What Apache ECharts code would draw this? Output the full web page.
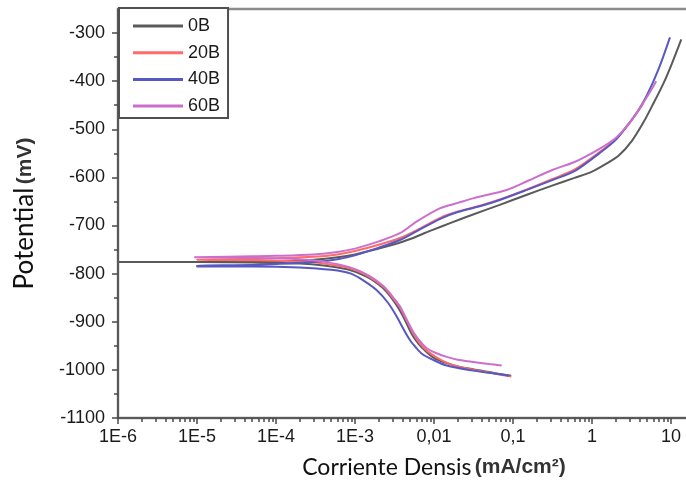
<!DOCTYPE html>
<html>
<head>
<meta charset="utf-8">
<script src="https://cdn.jsdelivr.net/npm/echarts@6/dist/echarts.min.js"></script>
<style>
  html, body { margin: 0; padding: 0; background: #ffffff; }
  #chart { width: 686px; height: 483px; }
</style>
</head>
<body>
<div id="chart"></div>
<script>
// Polarisation curves: [current density (mA/cm²), potential (mV)]
// Each curve runs along the cathodic branch towards Ecorr, then up the anodic branch.
const seriesNames = ['0B', '20B', '40B', '60B'];

const curve0B = [
  [0.095, -1012], [0.06, -1007], [0.032, -999], [0.02, -993], [0.014, -985], [0.01, -975],
  [0.0077, -960], [0.0063, -945], [0.0052, -925], [0.0043, -897], [0.0035, -870], [0.0028, -847],
  [0.0022, -828], [0.0014, -806], [0.0008, -791], [0.0004, -783], [0.0002, -779], [0.00005, -777],
  [0.00001, -776], [0.000001, -776],
  [0.000001, -776], [0.00001, -776], [0.0001, -775], [0.0003, -771], [0.0006, -766], [0.001, -760],
  [0.002, -748], [0.003, -740], [0.005, -728], [0.0075, -716], [0.01, -708], [0.016, -695],
  [0.03, -678], [0.068, -657], [0.15, -636], [0.3, -618], [0.6, -601], [1, -588], [1.5, -572],
  [2.2, -554], [3.2, -524], [4.5, -485], [6, -446], [8, -405], [10, -368], [13.5, -313]
];

const curve20B = [
  [0.095, -1014], [0.06, -1008], [0.032, -1000], [0.02, -993], [0.0145, -985], [0.011, -975],
  [0.0081, -960], [0.0066, -945], [0.0055, -925], [0.0045, -897], [0.0037, -870], [0.0029, -847],
  [0.0023, -828], [0.0015, -806], [0.00087, -789], [0.0004, -779], [0.0002, -775], [0.00005, -772],
  [0.00001, -771],
  [0.00001, -770], [0.00005, -769], [0.0001, -768], [0.0003, -765], [0.0006, -760], [0.001, -753],
  [0.002, -740], [0.0037, -726], [0.006, -710], [0.012, -684], [0.02, -671], [0.04, -658],
  [0.068, -646], [0.15, -625], [0.32, -603], [0.6, -584], [1.26, -547], [2, -520], [2.74, -495],
  [3.68, -466], [4.5, -445]
];

const curve40B = [
  [0.09, -1012], [0.06, -1008], [0.03, -1001], [0.0145, -991], [0.01, -980], [0.0071, -967],
  [0.0058, -952], [0.005, -939], [0.0041, -915], [0.0034, -890], [0.0026, -860], [0.0019, -835],
  [0.0013, -815], [0.00089, -800], [0.0005, -792], [0.0002, -787], [0.00005, -785], [0.00001, -785],
  [0.00001, -783], [0.00005, -782], [0.0001, -780], [0.0003, -776], [0.0006, -770], [0.001, -762],
  [0.002, -746], [0.0037, -730], [0.006, -712], [0.012, -686], [0.02, -672], [0.04, -659],
  [0.068, -647], [0.15, -626], [0.32, -605], [0.6, -587], [1.26, -549], [2, -522], [2.74, -494],
  [3.68, -466], [5, -428], [7, -374], [9.7, -309]
];

const curve60B = [
  [0.072, -991], [0.05, -988], [0.03, -983], [0.02, -979], [0.0145, -973], [0.011, -966],
  [0.0081, -955], [0.0066, -940], [0.0055, -922], [0.0045, -895], [0.0037, -868], [0.0029, -845],
  [0.0023, -826], [0.0015, -804], [0.00087, -787], [0.0004, -775], [0.0002, -770], [0.00005, -767],
  [0.0000093, -766],
  [0.0000093, -765], [0.00005, -764], [0.0001, -763], [0.0003, -760], [0.0006, -755], [0.001, -748],
  [0.002, -733], [0.0037, -716], [0.006, -692], [0.012, -664], [0.02, -653], [0.032, -643],
  [0.083, -626], [0.15, -608], [0.32, -584], [0.6, -568], [1.26, -540], [2, -518], [2.74, -494],
  [3.68, -466], [5, -432], [6.5, -400]
];

const curves = [curve0B, curve20B, curve40B, curve60B];
const lineColors = ['#5a5a5a', '#ff6a6a', '#5858c4', '#cc6fcc'];

// Axis ticks
const xMajorTicks = [1e-6, 1e-5, 1e-4, 1e-3, 1e-2, 1e-1, 1, 10, 100];
const xTickLabels = ['1E-6', '1E-5', '1E-4', '1E-3', '0,01', '0,1', '1', '10', '100'];
const yMajorTicks = [-1100, -1000, -900, -800, -700, -600, -500, -400, -300];
const yMinorTicks = [-1050, -950, -850, -750, -650, -550, -450, -350];

// minor log ticks at 2..9 × 10^n
const xMinorTicks = [];
for (let i = 0; i < xMajorTicks.length - 1; i++) {
  for (let m = 2; m <= 9; m++) xMinorTicks.push(+(m * xMajorTicks[i]).toPrecision(6));
}

const axisColor = '#4a4a4a';
const tickFont = { fontFamily: 'Liberation Sans', fontSize: 18, color: '#1a1a1a' };

const chart = echarts.init(document.getElementById('chart'), null, { renderer: 'canvas' });

chart.setOption({
  animation: false,
  backgroundColor: '#ffffff',
  grid: {
    left: 118, top: 9, width: 632, height: 409,
    containLabel: false,
    outerBoundsMode: 'none',
    show: true,
    borderColor: '#8c8c8c',
    borderWidth: 2.5,
    backgroundColor: 'transparent'
  },
  legend: {
    orient: 'vertical',
    left: 119,
    top: 8,
    padding: [9, 8, 3, 14],
    icon: 'rect',
    itemWidth: 50,
    itemHeight: 3,
    itemGap: 8.7,
    borderColor: '#505050',
    borderWidth: 2,
    backgroundColor: '#ffffff',
    textStyle: { fontFamily: 'Liberation Sans', fontSize: 18, lineHeight: 18, color: '#1a1a1a' },
    data: seriesNames
  },
  xAxis: [
    {
      type: 'log',
      logBase: 10,
      min: 1e-6,
      max: 100,
      position: 'bottom',
      splitLine: { show: false },
      axisLine: { show: true, lineStyle: { color: axisColor, width: 1.5 } },
      axisTick: { show: true, inside: false, length: 6, customValues: xMajorTicks,
                  lineStyle: { color: axisColor, width: 1.5 } },
      minorTick: { show: false },
      axisLabel: {
        show: true, margin: 10, customValues: xMajorTicks, ...tickFont,
        formatter: v => xTickLabels[Math.round(Math.log10(v)) + 6]
      },
      name: '{a|Corriente Densis} {b|(mA/cm²)}',
      nameLocation: 'middle',
      nameGap: 38,
      nameTextStyle: {
        rich: {
          a: { fontFamily: 'Lato', fontSize: 23, color: '#111111' },
          b: { fontFamily: 'Liberation Sans', fontSize: 21, fontWeight: 'bold', color: '#333333' }
        }
      }
    },
    {
      type: 'log',
      logBase: 10,
      min: 1e-6,
      max: 100,
      position: 'bottom',
      splitLine: { show: false },
      axisLine: { show: false },
      axisTick: { show: true, inside: false, length: 4, customValues: xMinorTicks,
                  lineStyle: { color: axisColor, width: 1.5 } },
      axisLabel: { show: false }
    }
  ],
  yAxis: [
    {
      type: 'value',
      min: -1100,
      max: -250,
      interval: 100,
      position: 'left',
      splitLine: { show: false },
      axisLine: { show: true, lineStyle: { color: axisColor, width: 1.5 } },
      axisTick: { show: true, inside: false, length: 6, customValues: yMajorTicks,
                  lineStyle: { color: axisColor, width: 1.5 } },
      axisLabel: {
        show: true, margin: 13, customValues: yMajorTicks, ...tickFont,
        formatter: v => String(v)
      },
      name: '{a|Potential} {b|(mV)}',
      nameLocation: 'middle',
      nameGap: 80,
      nameRotate: 90,
      nameTextStyle: {
        rich: {
          a: { fontFamily: 'Lato', fontSize: 26, color: '#111111' },
          b: { fontFamily: 'Liberation Sans', fontSize: 21, fontWeight: 'bold', color: '#333333' }
        }
      }
    },
    {
      type: 'value',
      min: -1100,
      max: -250,
      interval: 100,
      position: 'left',
      splitLine: { show: false },
      axisLine: { show: false },
      axisTick: { show: true, inside: false, length: 4, customValues: yMinorTicks,
                  lineStyle: { color: axisColor, width: 1.5 } },
      axisLabel: { show: false }
    }
  ],
  series: seriesNames.map((name, i) => ({
    name: name,
    type: 'line',
    xAxisIndex: 0,
    yAxisIndex: 0,
    data: curves[i],
    symbol: 'none',
    smooth: 0.3,
    clip: true,
    lineStyle: { color: lineColors[i], width: 2 },
    itemStyle: { color: lineColors[i] }
  }))
});
</script>
</body>
</html>
